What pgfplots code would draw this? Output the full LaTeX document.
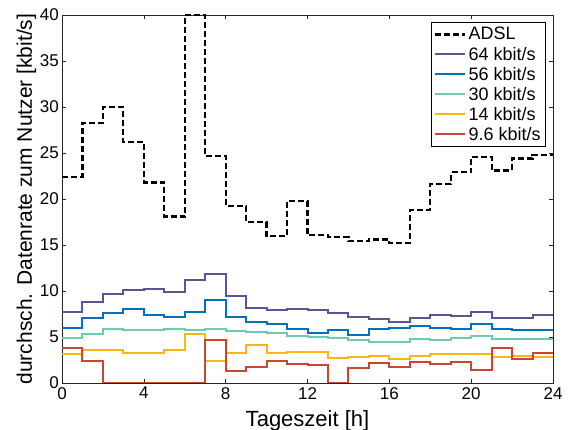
\documentclass[border=0pt]{standalone}
\usepackage{pgfplots}
\pgfplotsset{compat=1.18}
\usepackage{fontspec}
\setmainfont{Liberation Sans}

\definecolor{cpurple}{RGB}{94,84,149}
\definecolor{cblue}{RGB}{0,114,189}
\definecolor{cteal}{RGB}{108,203,176}
\definecolor{corange}{RGB}{253,181,21}
\definecolor{cred}{RGB}{201,71,47}

\begin{document}
\begin{tikzpicture}
\begin{axis}[
    scale only axis,
    width=491pt, height=368pt,
    xmin=0, xmax=24, ymin=0, ymax=40,
    xtick={0,4,...,24}, ytick={0,5,...,40},
    tick align=inside, major tick length=4pt,
    axis line style={line width=0.8pt, black!85},
    every tick/.style={black!85, line width=0.6pt},
    /pgf/number format/assume math mode=true,
    ticklabel style={font=\fontsize{17}{20}\selectfont},
    yticklabel style={inner sep=1pt, xshift=-2pt},
    xticklabel style={inner sep=1pt, yshift=-3pt},
    xlabel={Tageszeit [h]},
    ylabel={durchsch. Datenrate zum Nutzer [kbit/s]},
    xlabel style={font=\fontsize{22}{26}\selectfont, yshift=-7pt},
    ylabel style={font=\fontsize{21}{25}\selectfont, yshift=-1pt},
    legend cell align=left,
    legend style={at={(1,1)}, anchor=north east, xshift=-7pt, yshift=-7pt,
        font=\fontsize{18}{19}\selectfont, draw=black, line width=0.8pt,
        row sep=1.5pt, inner sep=3pt},
    legend image code/.code={\draw[#1] (0cm,0cm) -- (30pt,0cm);},
    const plot mark left,
]
\addplot[black, line width=2.2pt, dash pattern=on 6pt off 3pt] coordinates {
 (0,22.4) (1,28.3) (2,30.0) (3,26.2) (4,21.8) (5,18.1) (6,40.0) (7,24.7)
 (8,19.2) (9,17.5) (10,16.0) (11,19.8) (12,16.1) (13,15.9) (14,15.4) (15,15.6)
 (16,15.2) (17,18.8) (18,21.6) (19,22.9) (20,24.6) (21,23.1) (22,24.4) (23,24.8) (24,24.8)
};
\addlegendentry{ADSL}
\addplot[cpurple, line width=2pt] coordinates {
 (0,7.75) (1,8.84) (2,9.67) (3,10.1) (4,10.25) (5,9.9) (6,11.2) (7,11.9)
 (8,9.45) (9,8.1) (10,7.93) (11,8.04) (12,7.93) (13,7.65) (14,7.14) (15,7.0)
 (16,6.67) (17,7.03) (18,7.36) (19,7.28) (20,7.75) (21,7.03) (22,7.03) (23,7.36) (24,7.36)
};
\addlegendentry{64 kbit/s}
\addplot[cblue, line width=2pt] coordinates {
 (0,5.94) (1,7.03) (2,7.57) (3,8.04) (4,7.39) (5,7.21) (6,7.75) (7,9.02)
 (8,7.14) (9,6.67) (10,6.38) (11,5.9) (12,5.47) (13,5.76) (14,5.25) (15,5.87)
 (16,5.94) (17,6.2) (18,5.98) (19,5.83) (20,6.41) (21,5.87) (22,5.76) (23,5.76) (24,5.76)
};
\addlegendentry{56 kbit/s}
\addplot[cteal, line width=2pt] coordinates {
 (0,4.93) (1,5.33) (2,5.9) (3,5.76) (4,5.76) (5,5.9) (6,5.76) (7,5.87)
 (8,5.65) (9,5.58) (10,5.4) (11,5.1) (12,5.04) (13,4.93) (14,4.67) (15,4.42)
 (16,4.42) (17,4.75) (18,4.67) (19,4.93) (20,5.1) (21,4.82) (22,4.82) (23,4.82) (24,4.82)
};
\addlegendentry{30 kbit/s}
\addplot[corange, line width=2pt] coordinates {
 (0,3.12) (1,3.59) (2,3.59) (3,3.3) (4,3.3) (5,3.59) (6,5.33) (7,2.39)
 (8,3.3) (9,4.13) (10,3.3) (11,3.41) (12,3.33) (13,2.75) (14,2.86) (15,2.97)
 (16,2.61) (17,2.93) (18,3.15) (19,3.12) (20,3.12) (21,2.86) (22,2.93) (23,2.86) (24,2.86)
};
\addlegendentry{14 kbit/s}
\addplot[cred, line width=2pt] coordinates {
 (0,3.77) (1,2.39) (2,0) (3,0) (4,0) (5,0) (6,0) (7,4.67)
 (8,1.3) (9,1.77) (10,2.39) (11,2.03) (12,1.96) (13,0) (14,1.67) (15,2.14)
 (16,1.7) (17,2.25) (18,2.03) (19,2.25) (20,1.41) (21,3.84) (22,2.64) (23,3.22) (24,3.22)
};
\addlegendentry{9.6 kbit/s}
\end{axis}
\pgfresetboundingbox
\path[use as bounding box] ([xshift=-62pt,yshift=-47pt]current axis.south west)
  rectangle ([xshift=16pt,yshift=15pt]current axis.north east);
\end{tikzpicture}
\end{document}
